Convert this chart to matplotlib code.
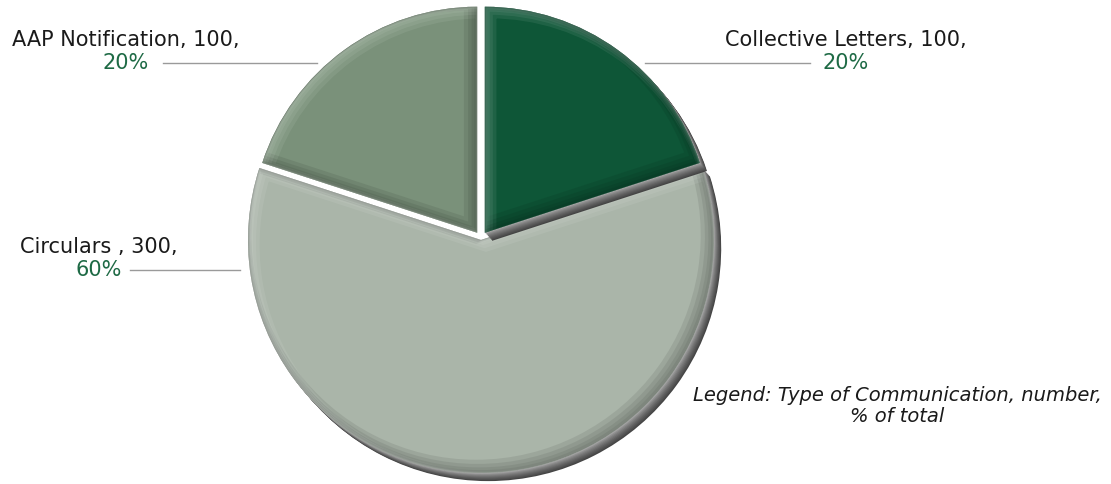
import matplotlib
matplotlib.use("Agg")
import matplotlib.pyplot as plt
from matplotlib.patches import Wedge
from matplotlib.colors import to_rgb
import numpy as np

# data
categories = ["Collective Letters", "Circulars ", "AAP Notification"]
counts = [100, 300, 100]
colors = ["#0e5637", "#aab5a9", "#7a917a"]
pct_color = "#1e6a45"

W, H = 1111, 484
fig = plt.figure(figsize=(W / 100, H / 100), dpi=100)
ax = fig.add_axes([0, 0, 1, 1])

R = 226
center = (481, H - 238)

# explode is in data units here (axes are in pixels)
wedges, _ = ax.pie(counts, colors=colors, startangle=90, counterclock=False,
                   radius=R, center=center, explode=[6.5, 2, 6.5], frame=True)
wedges[1].set_radius(233)  # the big slice sits a little larger
ax.set_xlim(0, W)
ax.set_ylim(0, H)
ax.set_aspect("auto")
ax.axis("off")


def mix(c, other, t):
    a = np.array(to_rgb(c))
    b = np.array(to_rgb(other))
    return tuple(a * (1 - t) + b * t)


def shadow(w, z):
    # soft drop shadow, dark outer edge, lighter inside
    for k in range(9, 0, -1):
        t = k / 9
        col = mix("#c4c4c4", "#454545", t ** 0.6)
        s = Wedge((w.center[0] + 0.8 * k, w.center[1] - 0.9 * k), w.r,
                  w.theta1, w.theta2, facecolor=col, edgecolor="none", zorder=z)
        ax.add_patch(s)


def bevel(w, z):
    # dark inner edge at bottom-right, light at top-left
    base = w.get_facecolor()
    for lw, d in [(12, 7), (8, 5), (5, 3), (2.5, 1.6)]:
        s = d / 1.414
        dark = Wedge((w.center[0] - s, w.center[1] + s), w.r, w.theta1, w.theta2,
                     facecolor="none", edgecolor=mix(base, "black", 0.5),
                     lw=lw, alpha=0.16, zorder=z)
        ax.add_patch(dark)
        dark.set_clip_path(w)
        light = Wedge((w.center[0] + s, w.center[1] - s), w.r, w.theta1, w.theta2,
                      facecolor="none", edgecolor=mix(base, "white", 0.6),
                      lw=lw * 0.8, alpha=0.12, zorder=z)
        ax.add_patch(light)
        light.set_clip_path(w)


# draw order: Circulars, AAP, Collective (collective shadow falls on circulars)
order = {1: 2, 2: 5, 0: 8}
for i, w in enumerate(wedges):
    z = order[i]
    if i != 2:
        shadow(w, z)
    w.set_zorder(z + 1)
    bevel(w, z + 2)

total = sum(counts)
font = "DejaVu Sans"
fs = 15

# label positions (image coords: x, y of first line)
label_pos = [(846, 40), (99, 247), (126, 40)]
lines = [((645, 810), 63), ((130, 240), 270), ((163, 317), 63)]
for i, cat in enumerate(categories):
    x, y = label_pos[i]
    ax.text(x, H - y, f"{cat}, {counts[i]},", ha="center", va="center",
            fontsize=fs, family=font, color="#1a1a1a")
    ax.text(x, H - y - 23, f"{counts[i] / total:.0%}", ha="center", va="center",
            fontsize=fs, family=font, color=pct_color)
    (x0, x1), ly = lines[i]
    ax.plot([x0, x1], [H - ly, H - ly], color="#9a9a9a", lw=1, zorder=20)

ax.text(897, H - 406, "Legend: Type of Communication, number,\n% of total",
        ha="center", va="center", fontsize=14, family=font, style="italic",
        color="#1a1a1a", linespacing=1.1)

fig.savefig("out.png", dpi=100)
